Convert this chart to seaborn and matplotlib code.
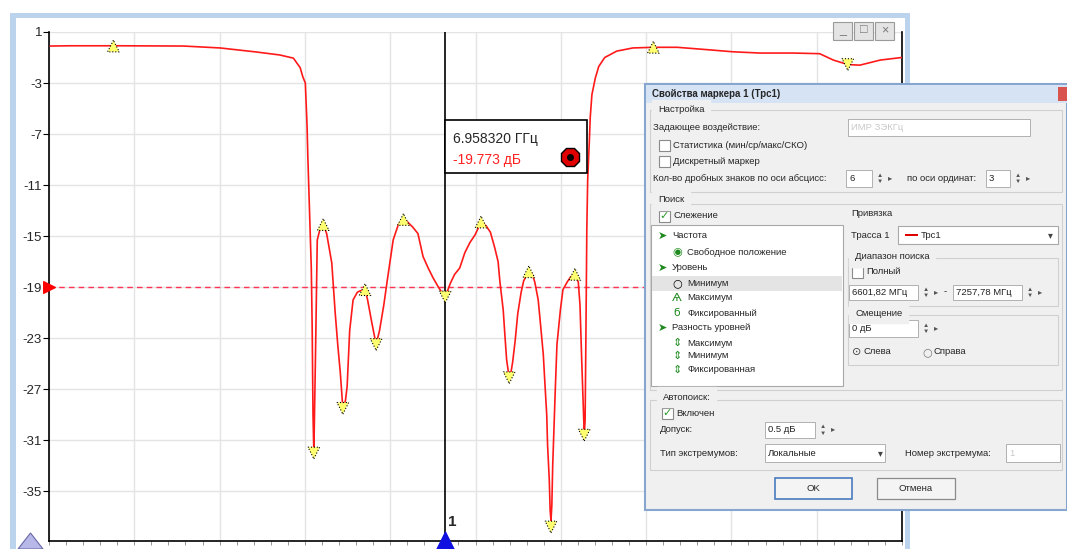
import numpy as np
import pandas as pd
import seaborn as sns
import matplotlib.pyplot as plt
from matplotlib.patches import Rectangle, Polygon

# trace of the filter response (GHz, dB)
freq_ghz = [6.495, 6.518, 6.577, 6.651, 6.694, 6.737, 6.764, 6.780, 6.788, 6.791,
            6.794, 6.796, 6.797, 6.799, 6.801, 6.802, 6.803, 6.804, 6.806, 6.808,
            6.811, 6.815, 6.819, 6.825, 6.829, 6.832, 6.835, 6.838, 6.841, 6.843,
            6.846, 6.850, 6.855, 6.858, 6.864, 6.867, 6.872, 6.877, 6.881, 6.886,
            6.890, 6.897, 6.903, 6.909, 6.914, 6.920, 6.926, 6.932, 6.938, 6.944,
            6.950, 6.955, 6.958, 6.964, 6.969, 6.975, 6.981, 6.987, 6.993, 7.000,
            7.006, 7.011, 7.016, 7.020, 7.022, 7.026, 7.028, 7.030, 7.033, 7.035,
            7.037, 7.040, 7.043, 7.047, 7.050, 7.056, 7.060, 7.063, 7.067, 7.069,
            7.073, 7.075, 7.077, 7.078, 7.080, 7.081, 7.082, 7.083, 7.084, 7.087,
            7.089, 7.093, 7.096, 7.101, 7.105, 7.110, 7.114, 7.116, 7.118, 7.121,
            7.122, 7.123, 7.124, 7.125, 7.127, 7.128, 7.130, 7.134, 7.138, 7.145,
            7.159, 7.178, 7.202, 7.230, 7.268, 7.295, 7.327, 7.366, 7.397, 7.413,
            7.430, 7.444, 7.468, 7.493]
level_db = [-0.10, -0.08, -0.08, -0.10, -0.25, -0.57, -0.80, -1.05, -1.8, -2.5,
            -3.0, -6.3, -8.9, -13.2, -17.5, -22.0, -29.0, -32.0, -24.0, -15.3,
            -14.5, -14.1, -14.8, -17.1, -21.0, -23.5, -25.7, -28.5, -27.9, -26.8,
            -22.4, -20.0, -19.4, -19.3, -19.2, -20.0, -21.8, -23.5, -22.4, -20.4,
            -18.5, -15.3, -14.1, -13.7, -13.9, -14.3, -14.8, -16.6, -17.5, -18.3,
            -19.0, -19.5, -19.773, -18.7, -18.0, -17.5, -16.3, -15.5, -14.9, -13.9,
            -14.2, -14.7, -15.9, -17.0, -18.5, -20.8, -22.8, -24.7, -26.1, -25.7,
            -24.9, -23.2, -21.1, -19.4, -18.5, -17.8, -18.0, -18.6, -20.0, -21.4,
            -24.3, -26.7, -29.0, -31.4, -34.1, -36.5, -37.3, -36.1, -33.0, -27.1,
            -23.5, -20.8, -19.2, -18.6, -18.2, -18.0, -18.6, -20.4, -24.7, -30.6,
            -29.4, -22.4, -14.5, -10.6, -7.5, -5.7, -3.9, -2.6, -1.7, -1.0,
            -0.5, -0.25, -0.2, -0.2, -0.4, -0.55, -0.65, -0.65, -0.7, -1.2,
            -1.55, -1.6, -1.2, -1.0]

# extremum markers found by the autosearch
max_freq = [6.569, 6.815, 6.864, 6.909, 7.000, 7.056, 7.110, 7.202]
max_level = [-0.1, -14.1, -19.2, -13.7, -13.9, -17.8, -18.0, -0.2]
min_freq = [6.804, 6.838, 6.877, 6.958, 7.033, 7.082, 7.121, 7.430]
min_level = [-32.0, -28.5, -23.5, -19.773, -26.1, -37.8, -30.6, -1.55]

marker_freq = 6.958320
marker_level = -19.773
ref_level = -19.0
y_ticks = [1, -3, -7, -11, -15, -19, -23, -27, -31, -35]
x_start, x_stop = 6.4935, 7.4935

W, H = 1067, 549

sns.set_theme(style="white")
plt.rcParams['font.family'] = ['Liberation Sans', 'DejaVu Sans']
plt.rcParams['axes.unicode_minus'] = False

fig = plt.figure(figsize=(W / 100, H / 100), dpi=100)
fig.patch.set_facecolor('white')


def fr(x0, y0, x1, y1, **kw):
    fig.add_artist(Rectangle((x0 / W, 1 - y1 / H), (x1 - x0) / W, (y1 - y0) / H,
                             transform=fig.transFigure, **kw))


def ft(x, y, s, size=6.8, **kw):
    kw.setdefault('va', 'center')
    fig.text(x / W, 1 - y / H, s, fontsize=size, **kw)


# window frame around the plot
fr(10, 13, 910, 18, color='#bcd3ee', lw=0)
fr(10, 13, 16, 549, color='#bcd3ee', lw=0)
fr(905, 13, 910, 549, color='#bcd3ee', lw=0)

ax = fig.add_axes([49 / W, (549 - 541) / H, (902 - 49) / W, (541 - 32) / H])
df = pd.DataFrame({'freq': freq_ghz, 'level': level_db})
sns.lineplot(data=df, x='freq', y='level', ax=ax, color='#ff1a1a', lw=1.2, sort=False, zorder=3)

ax.axhline(ref_level, color='#ff3355', lw=1, ls=(0, (4, 3)), zorder=2)
ax.axvline(marker_freq, color='black', lw=1.2, zorder=4)

sns.scatterplot(x=max_freq, y=max_level, ax=ax, marker='^', s=70, color='#ffff70',
                edgecolor='black', linewidth=0.8, linestyle=':', zorder=5)
sns.scatterplot(x=min_freq, y=min_level, ax=ax, marker='v', s=70, color='#ffff70',
                edgecolor='black', linewidth=0.8, linestyle=':', zorder=5)

ax.set_xlim(x_start, x_stop)
ax.set_ylim(-38.9, 1.0)
ax.set_yticks(y_ticks)
ax.set_xticks(np.linspace(x_start, x_stop, 11))
ax.set_xticks(np.linspace(x_start, x_stop, 51), minor=True)
ax.set_xticklabels([])
ax.set_xlabel('')
ax.set_ylabel('')
ax.grid(True, color='#e4e4e4', lw=1)
ax.tick_params(axis='y', labelsize=9.5, length=4, width=0.8, color='black', direction='out', left=True, pad=1)
ax.tick_params(axis='x', which='both', length=3, width=0.6, color='#888888', direction='out', bottom=True)
for side in ['left', 'bottom', 'right']:
    ax.spines[side].set_color('black')
    ax.spines[side].set_linewidth(1.2)
ax.spines['top'].set_visible(False)

# left reference arrow, bottom marker triangles
ax.scatter([x_start], [ref_level], marker='>', s=70, color='red', clip_on=False, zorder=6)
ax.scatter([marker_freq], [-38.9], marker='^', s=180, color='#1010e0', clip_on=False, zorder=6)
ax.annotate('1', (marker_freq, -38.9), xytext=(2, 9), textcoords='offset points',
            fontsize=11, fontweight='bold', ha='left', va='bottom', zorder=7)
fig.add_artist(Polygon([[18 / W, 1 - 549 / H], [43 / W, 1 - 549 / H], [30.5 / W, 1 - 533 / H]],
                       closed=True, transform=fig.transFigure, facecolor='#b8b8e8',
                       edgecolor='#6868a8', lw=0.8))

# marker readout box
fr(445, 120, 587, 173, facecolor='white', edgecolor='black', lw=1.2, zorder=6)
ft(453, 139, '6.958320 ГГц', size=10, zorder=7)
ft(453, 160, '%.3f дБ' % marker_level, size=10, color='#ff2020', zorder=7)
fig.add_artist(plt.Line2D([570 / W], [1 - 157 / H], marker='8', markersize=14, color='#e00000',
                          markeredgecolor='black', transform=fig.transFigure, zorder=7))
fig.add_artist(plt.Line2D([570 / W], [1 - 157 / H], marker='o', markersize=4, color='black',
                          transform=fig.transFigure, zorder=8))

# window buttons
for bx, sym in [(833, '_'), (854, '□'), (875, '×')]:
    fr(bx, 22, bx + 19, 40, facecolor='#e4e4e4', edgecolor='#9a9a9a', lw=0.8)
    ft(bx + 9.5, 30, sym, size=9, ha='center', color='#777777')

# ---- dialog "Свойства маркера 1" ----
fr(645, 84, 1067, 510, facecolor='#f0f0f0', edgecolor='#86a6d0', lw=1.5)
fr(646, 85, 1067, 103, facecolor='#d5e3f5', lw=0)
ft(652, 94, 'Свойства маркера 1 (Трс1)', size=7, fontweight='bold')
fr(1058, 87, 1067, 101, facecolor='#d9534f', lw=0)


def checkbox(x, y, label, checked=False):
    fr(x, y - 5.5, x + 11, y + 5.5, facecolor='white', edgecolor='#8a8a8a', lw=0.8)
    if checked:
        ft(x + 5.5, y, '✓', size=8, ha='center', color='#2a9a2a', fontweight='bold')
    ft(x + 14, y, label)


def field(x0, y0, x1, y1, s, color='#222222', spin=False):
    fr(x0, y0, x1, y1, facecolor='white', edgecolor='#b0b0b0', lw=0.7)
    ft(x0 + 3, (y0 + y1) / 2, s, color=color)
    if spin:
        ft(x1 + 8, (y0 + y1) / 2 - 3, '▲', size=4.5, ha='center', color='#555555')
        ft(x1 + 8, (y0 + y1) / 2 + 3, '▼', size=4.5, ha='center', color='#555555')
        ft(x1 + 18, (y0 + y1) / 2, '▸', size=6, ha='center', color='#555555')


def group_label(x, y, s):
    ft(x, y, s, backgroundcolor='#f0f0f0')


# group frames
fr(650, 110, 1062, 192, facecolor='none', edgecolor='#d0d0d0', lw=0.8)
fr(650, 204, 1062, 390, facecolor='none', edgecolor='#d0d0d0', lw=0.8)
fr(650, 400, 1062, 470, facecolor='none', edgecolor='#d0d0d0', lw=0.8)
group_label(658, 110, 'Настройка')
ft(653, 127, 'Задающее воздействие:')
field(848, 119, 1030, 136, 'ИМР ЗЭКГц', color='#c8c8c8')
checkbox(659, 145, 'Статистика (мин/ср/макс/СКО)')
checkbox(659, 161, 'Дискретный маркер')
ft(653, 178, 'Кол-во дробных знаков по оси абсцисс:')
field(846, 170, 872, 187, '6', spin=True)
ft(907, 178, 'по оси ординат:')
field(986, 170, 1010, 187, '3', spin=True)

group_label(658, 200, 'Поиск')
checkbox(659, 216, 'Слежение', checked=True)

# tree panel
fr(651, 225, 843, 386, facecolor='white', edgecolor='#a8a8a8', lw=0.8)
fr(652, 276, 842, 291, facecolor='#e4e4e4', lw=0)
tree = [(668, 236, '➤', 'Частота'), (683, 252, '◉', 'Свободное положение'),
        (668, 268, '➤', 'Уровень'), (683, 283, '○', 'Минимум'),
        (683, 298, 'Ѧ', 'Максимум'), (683, 313, 'ϭ', 'Фиксированный'),
        (668, 328, '➤', 'Разность уровней'), (683, 343, '⇕', 'Максимум'),
        (683, 356, '⇕', 'Минимум'), (683, 370, '⇕', 'Фиксированная')]
for tx, ty, icon, label in tree:
    ft(tx - 6, ty, icon, size=8, ha='center', color='#1e8a1e' if icon != '○' else 'black',
       family=['DejaVu Sans'])
    ft(tx + 4, ty, label)

ft(851, 214, 'Привязка')
ft(851, 235, 'Трасса 1')
fr(898, 226, 1058, 244, facecolor='white', edgecolor='#a8a8a8', lw=0.8)
fr(905, 234, 918, 236, facecolor='#e00000', lw=0)
ft(921, 235, 'Трс1')
ft(1050, 235, '▾', size=7, ha='center', color='#444444')

fr(848, 258, 1058, 306, facecolor='none', edgecolor='#d0d0d0', lw=0.8)
group_label(855, 257, 'Диапазон поиска')
checkbox(852, 272, 'Полный')
field(849, 285, 918, 300, '6601,82 МГц', spin=True)
ft(944, 292, '-')
field(953, 285, 1022, 300, '7257,78 МГц', spin=True)

fr(848, 315, 1058, 365, facecolor='none', edgecolor='#d0d0d0', lw=0.8)
group_label(855, 313, 'Смещение')
field(849, 320, 918, 337, '0 дБ', spin=True)
ft(857, 352, '⊙', size=8, ha='center', color='#444444', family=['DejaVu Sans'])
ft(864, 352, 'Слева')
ft(927, 352, '○', size=8, ha='center', color='#777777', family=['DejaVu Sans'])
ft(934, 352, 'Справа')

group_label(663, 397, 'Автопоиск:')
checkbox(662, 413, 'Включен', checked=True)
ft(660, 430, 'Допуск:')
field(765, 422, 815, 438, '0.5 дБ', spin=True)
ft(660, 453, 'Тип экстремумов:')
field(765, 444, 885, 462, 'Локальные')
ft(880, 453, '▾', size=7, ha='center', color='#444444')
ft(905, 453, 'Номер экстремума:')
field(1006, 444, 1060, 462, '1', color='#c8c8c8')

fr(775, 478, 852, 499, facecolor='#f4f4f4', edgecolor='#4a7bc0', lw=1.2)
ft(813.5, 488.5, 'OK', ha='center')
fr(877, 478, 955, 499, facecolor='#f4f4f4', edgecolor='#8a8a8a', lw=0.9)
ft(916, 488.5, 'Отмена', ha='center')

plt.savefig('out.png', dpi=100)
plt.close()
